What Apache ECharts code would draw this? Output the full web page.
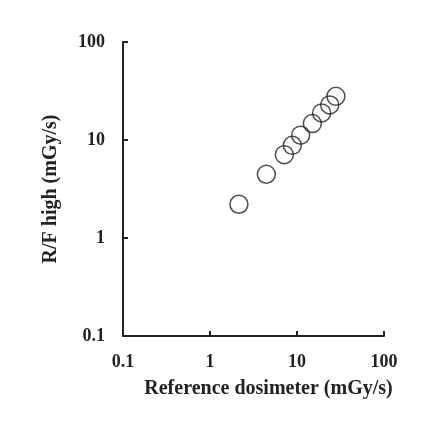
<!DOCTYPE html>
<html>
<head>
<meta charset="utf-8">
<script src="https://cdn.jsdelivr.net/npm/echarts@6/dist/echarts.min.js"></script>
<style>html,body{margin:0;padding:0;background:#fff;}#c{width:426px;height:424px;}</style>
</head>
<body>
<div id="c"></div>
<script>
const refDose = [2.15, 4.44, 7.15, 8.84, 11.0, 15.0, 19.2, 23.8, 28.0];
const rfHigh = [2.21, 4.47, 7.08, 8.83, 11.2, 14.7, 18.9, 22.8, 27.9];
const xTitle = 'Reference dosimeter (mGy/s)';
const yTitle = 'R/F high (mGy/s)';
const fmt = v => (v < 1 ? v.toFixed(1) : String(Math.round(v)));
const font = "'Liberation Serif', 'Times New Roman', serif";
const chart = echarts.init(document.getElementById('c'), null, {renderer: 'canvas'});
const axisCommon = {
  type: 'log', logBase: 10, min: 0.1, max: 100,
  axisLine: {show: true, lineStyle: {color: '#222', width: 2}},
  axisTick: {show: true, inside: true, length: 5, lineStyle: {color: '#222', width: 2}},
  splitLine: {show: false},
  minorTick: {show: false},
  nameLocation: 'middle',
  nameTextStyle: {fontFamily: font, fontWeight: 'bold', fontSize: 20, color: '#222'},
  axisLabel: {fontFamily: font, fontWeight: 'bold', fontSize: 18, color: '#222', formatter: fmt}
};
chart.setOption({
  animation: false,
  grid: {left: 123, right: 42, top: 42, bottom: 88, containLabel: false},
  xAxis: Object.assign({}, axisCommon, {
    name: xTitle, nameGap: 43,
    nameTextStyle: Object.assign({}, axisCommon.nameTextStyle, {padding: [0, 0, 0, 30]}),
    axisLabel: Object.assign({}, axisCommon.axisLabel, {margin: 17})
  }),
  yAxis: Object.assign({}, axisCommon, {
    name: yTitle, nameGap: 62,
    axisLabel: Object.assign({}, axisCommon.axisLabel, {margin: 18})
  }),
  series: [{
    type: 'scatter',
    data: refDose.map((x, i) => [x, rfHigh[i]]),
    symbol: 'circle', symbolSize: 18,
    itemStyle: {color: 'rgba(0,0,0,0)', borderColor: '#222', borderWidth: 1.5}
  }]
});
</script>
</body>
</html>
